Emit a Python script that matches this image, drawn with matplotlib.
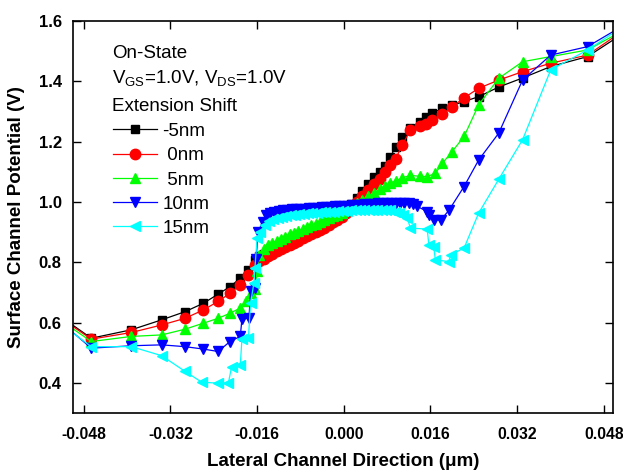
import matplotlib
matplotlib.use("Agg")
import matplotlib.pyplot as plt
from matplotlib import font_manager as fm

plt.rcParams['font.family'] = ['Liberation Sans', 'DejaVu Sans']
plt.rcParams['mathtext.fontset'] = 'custom'
plt.rcParams['mathtext.rm'] = 'Liberation Sans'

# ---------------- data ----------------
x_m5 = [-0.0515, -0.0466, -0.0392, -0.0336, -0.0293, -0.0259, -0.0232, -0.0210, -0.0191, -0.0176, -0.0164,
        -0.0156, -0.0148, -0.0140, -0.0132, -0.0124, -0.0116, -0.0108, -0.0100, -0.0092, -0.0084, -0.0076,
        -0.0068, -0.0060, -0.0052, -0.0044, -0.0036, -0.0028, -0.0020, -0.0012, -0.0004, 0.0004,
        0.0014, 0.0024, 0.0034, 0.0044, 0.0055, 0.0066, 0.0076, 0.0086, 0.0096, 0.0108, 0.0123, 0.0140,
        0.0151, 0.0163, 0.0182, 0.0200, 0.0222, 0.0249, 0.0286, 0.0330, 0.0382, 0.0450, 0.0515]
y_m5 = [0.610, 0.548, 0.576, 0.609, 0.636, 0.664, 0.694, 0.719, 0.747, 0.775, 0.806,
        0.820, 0.826, 0.833, 0.840, 0.847, 0.854, 0.861, 0.868, 0.875, 0.882, 0.889,
        0.896, 0.903, 0.910, 0.917, 0.925, 0.933, 0.942, 0.952, 0.962, 0.974,
        0.992, 1.012, 1.035, 1.058, 1.084, 1.100, 1.120, 1.150, 1.183, 1.214, 1.244, 1.265,
        1.283, 1.294, 1.310, 1.320, 1.333, 1.349, 1.381, 1.411, 1.449, 1.482, 1.558]

x_0 = list(x_m5)
y_0 = [0.605, 0.545, 0.567, 0.592, 0.614, 0.642, 0.670, 0.697, 0.725, 0.758, 0.791,
       0.805, 0.812, 0.820, 0.828, 0.836, 0.843, 0.851, 0.858, 0.865, 0.872, 0.879,
       0.886, 0.893, 0.900, 0.907, 0.915, 0.923, 0.932, 0.941, 0.951, 0.962,
       0.980, 1.000, 1.020, 1.040, 1.060, 1.075, 1.098, 1.122, 1.143, 1.190, 1.237, 1.252,
       1.260, 1.272, 1.290, 1.316, 1.345, 1.377, 1.404, 1.432, 1.460, 1.487, 1.567]

x_5 = [-0.0515, -0.0466, -0.0392, -0.0336, -0.0293, -0.0259, -0.0232, -0.0210, -0.0191, -0.0180, -0.0172,
       -0.0164, -0.0160,
       -0.0156, -0.0148, -0.0140, -0.0132, -0.0124, -0.0116, -0.0108, -0.0100, -0.0092, -0.0084, -0.0076,
       -0.0068, -0.0060, -0.0052, -0.0044, -0.0036, -0.0028, -0.0020, -0.0012, -0.0004, 0.0004,
       0.0014, 0.0024, 0.0034, 0.0044, 0.0055, 0.0066, 0.0076, 0.0086, 0.0096, 0.0108, 0.0123, 0.0140,
       0.0154, 0.0169, 0.0182, 0.0200, 0.0222, 0.0249, 0.0286, 0.0330, 0.0382, 0.0450, 0.0515]
y_5 = [0.598, 0.537, 0.554, 0.559, 0.578, 0.598, 0.614, 0.631, 0.648, 0.670, 0.697,
       0.710, 0.770,
       0.825, 0.845, 0.856, 0.864, 0.871, 0.878, 0.885, 0.892, 0.898, 0.904, 0.910,
       0.916, 0.922, 0.928, 0.934, 0.940, 0.946, 0.952, 0.958, 0.964, 0.972,
       0.985, 0.998, 1.008, 1.018, 1.030, 1.042, 1.052, 1.062, 1.070, 1.080, 1.088, 1.085,
       1.084, 1.095, 1.128, 1.167, 1.217, 1.322, 1.410, 1.465, 1.482, 1.504, 1.568]

x_10 = [-0.0515, -0.0466, -0.0392, -0.0336, -0.0293, -0.0259, -0.0232, -0.0210, -0.0191, -0.0188, -0.0175,
        -0.0172, -0.0164, -0.0162, -0.0158,
        -0.0150, -0.0144, -0.0136, -0.0128, -0.0120, -0.0112, -0.0104, -0.0096, -0.0088, -0.0080, -0.0072,
        -0.0064, -0.0056, -0.0048, -0.0040, -0.0032, -0.0024, -0.0016, -0.0008, 0.0000, 0.0008, 0.0016,
        0.0024, 0.0032, 0.0040, 0.0048, 0.0056, 0.0064, 0.0072, 0.0080, 0.0088, 0.0096, 0.0104, 0.0112,
        0.0120, 0.0128, 0.0136,
        0.0154, 0.0158, 0.0166, 0.0179, 0.0194, 0.0222, 0.0249, 0.0286, 0.0330, 0.0382, 0.0450, 0.0515]
y_10 = [0.590, 0.515, 0.523, 0.526, 0.520, 0.512, 0.504, 0.537, 0.554, 0.612, 0.614,
        0.705, 0.714, 0.810, 0.900,
        0.935, 0.955, 0.963, 0.967, 0.970, 0.972, 0.974, 0.975, 0.976, 0.977, 0.978,
        0.979, 0.980, 0.981, 0.982, 0.983, 0.984, 0.985, 0.986, 0.987, 0.988, 0.989,
        0.990, 0.991, 0.992, 0.993, 0.994, 0.995, 0.996, 0.996, 0.997, 0.997, 0.997, 0.997,
        0.996, 0.993, 0.985,
        0.968, 0.955, 0.940, 0.940, 0.972, 1.051, 1.139, 1.228, 1.404, 1.487, 1.515, 1.584]

x_15 = [-0.0515, -0.0466, -0.0392, -0.0336, -0.0293, -0.0262, -0.0232, -0.0213, -0.0207, -0.0191, -0.0188,
        -0.0176, -0.0172, -0.0166, -0.0164, -0.0160,
        -0.0154, -0.0146, -0.0138, -0.0130, -0.0122, -0.0114, -0.0106, -0.0098, -0.0090, -0.0082, -0.0074,
        -0.0066, -0.0058, -0.0050, -0.0042, -0.0034, -0.0026, -0.0018, -0.0010, -0.0002, 0.0006, 0.0014,
        0.0022, 0.0030, 0.0038, 0.0046, 0.0054, 0.0062, 0.0070, 0.0078, 0.0086, 0.0094, 0.0102, 0.0110,
        0.0117,
        0.0123, 0.0154, 0.0157, 0.0166, 0.0169, 0.0194, 0.0197, 0.0222, 0.0249, 0.0286, 0.0330, 0.0382,
        0.0450, 0.0515]
y_15 = [0.585, 0.520, 0.520, 0.490, 0.438, 0.402, 0.399, 0.399, 0.454, 0.460, 0.545,
        0.548, 0.664, 0.730, 0.780, 0.880,
        0.900, 0.925, 0.937, 0.943, 0.947, 0.950, 0.953, 0.955, 0.957, 0.959, 0.961,
        0.962, 0.963, 0.964, 0.965, 0.966, 0.967, 0.968, 0.969, 0.970, 0.971, 0.972,
        0.972, 0.973, 0.973, 0.974, 0.974, 0.974, 0.974, 0.973, 0.972, 0.968, 0.962, 0.955,
        0.948,
        0.913, 0.910, 0.858, 0.852, 0.808, 0.802, 0.824, 0.847, 0.963, 1.075, 1.206, 1.438,
        1.504, 1.581]

labels = ["-5nm", " 0nm", " 5nm", "10nm", "15nm"]
colors = ["#000000", "#ff0000", "#00ff00", "#0000ff", "#00ffff"]
markers = ["s", "o", "^", "v", "<"]
msizes = [6.0, 7.5, 7.5, 7.5, 7.5]

x_ticks = [-0.048, -0.032, -0.016, 0.000, 0.016, 0.032, 0.048]
y_ticks = [0.4, 0.6, 0.8, 1.0, 1.2, 1.4, 1.6]

series = [(x_m5, y_m5), (x_0, y_0), (x_5, y_5), (x_10, y_10), (x_15, y_15)]

# ---------------- fonts for axes text ----------------
installed = {f.name for f in fm.fontManager.ttflist}
if 'Liberation Sans Narrow' in installed:
    axis_family = ['Liberation Sans Narrow', 'DejaVu Sans']
    xtick_size, ytick_size, label_size = 14.0, 14.0, 15.5
else:
    axis_family = ['Liberation Sans', 'DejaVu Sans']
    xtick_size, ytick_size, label_size = 11.3, 12.0, 13.5

# ---------------- figure ----------------
fig = plt.figure(figsize=(6.23, 4.72), dpi=100)
ax = fig.add_axes([0.117, 0.125, 0.867, 0.8305])

handles = []
for (xs, ys), lab, c, m, ms in zip(series, labels, colors, markers, msizes):
    h, = ax.plot(xs, ys, color=c, lw=0.9, marker=m, ms=ms, mec=c, mfc=c, label=lab)
    handles.append(h)

ax.set_xlim(-0.050, 0.0497)
ax.set_ylim(0.30, 1.60)
ax.set_xticks(x_ticks)
ax.set_xticklabels([f"{v:.3f}" for v in x_ticks])
ax.set_yticks(y_ticks)
ax.set_yticklabels([f"{v:.1f}" for v in y_ticks])
ax.tick_params(direction='in', length=6, width=1.0, top=True, right=True)
ax.tick_params(axis='x', pad=10, labelsize=xtick_size)
ax.tick_params(axis='y', pad=8, labelsize=ytick_size)
for lab in ax.get_xticklabels() + ax.get_yticklabels():
    lab.set_fontweight('bold')
    lab.set_family(axis_family)
for s in ax.spines.values():
    s.set_linewidth(1.2)

ax.set_xlabel("Lateral Channel Direction (μm)", fontsize=label_size, fontweight='bold',
              family=axis_family, labelpad=8)
ax.set_ylabel("Surface Channel Potential (V)", fontsize=label_size, fontweight='bold',
              family=axis_family, labelpad=10)

tfs = 13.5
ax.text(0.072, 0.918, "On-State", transform=ax.transAxes, fontsize=tfs, va='center', ha='left')
ax.text(0.072, 0.852, r"V$_{\mathrm{GS}}$=1.0V, V$_{\mathrm{DS}}$=1.0V", transform=ax.transAxes,
        fontsize=tfs, va='center', ha='left')
ax.text(0.072, 0.782, "Extension Shift", transform=ax.transAxes, fontsize=tfs, va='center', ha='left')

leg = ax.legend(handles=handles, loc='upper left', bbox_to_anchor=(0.075, 0.74),
                frameon=False, fontsize=tfs, handlelength=2.3, handletextpad=0.3,
                labelspacing=0.38, borderaxespad=0.0, borderpad=0.0)

fig.savefig("out.png", dpi=100)
